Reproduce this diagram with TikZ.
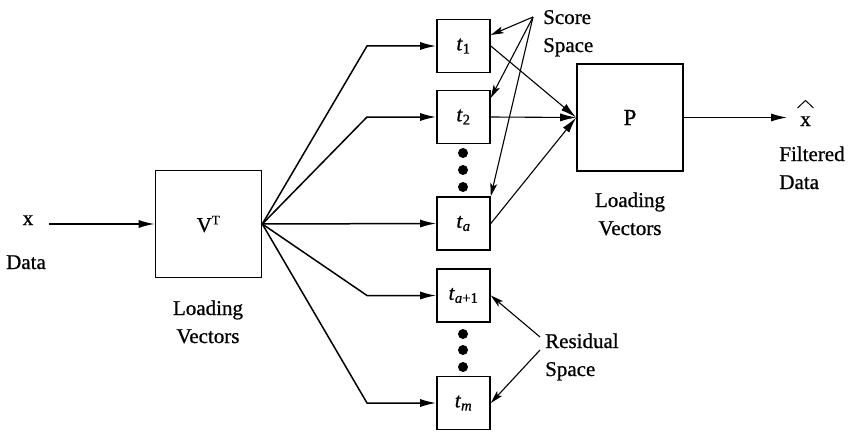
\documentclass[tikz,border=0pt]{standalone}
\usepackage{fontspec}
\setmainfont{Liberation Serif}[FakeBold=0.8]
\usetikzlibrary{arrows.meta}
\begin{document}
\begin{tikzpicture}[x=1pt,y=-1pt,
  bigbox/.style={draw,line width=1.6pt,minimum width=106pt,minimum height=107pt,inner sep=0pt},
  smallbox/.style={draw,line width=1.6pt,minimum width=53pt,minimum height=53pt,inner sep=0pt},
  flow/.style={line width=1.5pt,-{Latex[length=16pt,width=8pt]}},
  thinflow/.style={line width=1.1pt,-{Latex[length=16pt,width=8pt]}},
  note/.style={line width=1.1pt,-{Stealth[length=13pt,width=7pt,inset=3pt]}},
  lbl/.style={font=\fontsize{21}{28}\selectfont,inner sep=0pt},
  dot/.style={fill=black}]
\useasboundingbox (0,0) rectangle (850,433);

% main blocks
\node[bigbox,lbl] (VT) at (208.5,224) {V\textsuperscript{\fontsize{13}{13}\selectfont T}};
\node[bigbox,lbl,font=\fontsize{23}{28}\selectfont] (P) at (630,117.5) {P};

% score / residual components
\node[smallbox,lbl] (t1) at (463.5,46) {\textit{t}\textsubscript{1}};
\node[smallbox,lbl] (t2) at (463.5,117) {\textit{t}\textsubscript{2}};
\node[smallbox,lbl] (ta) at (463.5,223.5) {\textit{t}\textsubscript{\textit{a}}};
\node[smallbox,lbl] (ta1) at (463.5,295.5) {\textit{t}\textsubscript{\textit{a}+1}};
\node[smallbox,lbl] (tm) at (463.5,403) {\textit{t}\textsubscript{\textit{m}}};

% ellipsis dots
\fill[dot] (463,153) circle (5pt);
\fill[dot] (463,170) circle (5pt);
\fill[dot] (463,187) circle (5pt);
\fill[dot] (463,334) circle (5pt);
\fill[dot] (463,350) circle (5pt);
\fill[dot] (463,367) circle (5pt);

% labels (two-line labels are placed by the baseline of their last line)
\node[lbl,anchor=base] (xin) at (28,225) {x};
\node[lbl,anchor=base] (datalbl) at (26,269) {Data};
\node[lbl,anchor=base,align=center] (loadV) at (208,343) {Loading\\Vectors};
\node[lbl,anchor=base,align=center] (loadP) at (630,235) {Loading\\Vectors};
\node[lbl,anchor=base west,align=left] (score) at (543,52) {Score\\Space};
\node[lbl,anchor=base west,align=left] (resid) at (545,376) {Residual\\Space};
\node[lbl,anchor=base] (xhat) at (805.5,126) {x};
\node[lbl,anchor=base,align=left] (filt) at (812,189) {Filtered\\Data};
\draw[line width=1pt] (797.5,108) -- (805.5,100.5) -- (813.5,108);

% connectors
\coordinate (xstart) at (49,224);
\coordinate (bend) at (367,0);
\coordinate (xend) at (787,117.5);
\coordinate (sc) at (533,17);
\coordinate (rs1) at (540,337);
\coordinate (rs2) at (540,350);

\draw[flow] (xstart) -- (VT.west);
\draw[flow] (VT.east) -- (bend |- t1) -- (t1.west);
\draw[flow] (VT.east) -- (bend |- t2) -- (t2.west);
\draw[flow] (VT.east) -- (ta.west);
\draw[flow] (VT.east) -- (bend |- ta1) -- (ta1.west);
\draw[flow] (VT.east) -- (bend |- tm) -- (tm.west);

\draw[thinflow] (t1.east) -- (P.west);
\draw[thinflow] (t2.east) -- (P.west);
\draw[thinflow] (ta.east) -- (P.west);
\draw[thinflow] (P.east) -- (xend);

\draw[note] (sc) -- (t1.22);
\draw[note] (sc) -- (t2.35);
\draw[note] (sc) -- (ta.north east);
\draw[note] (rs1) -- (ta1.east);
\draw[note] (rs2) -- (tm.east);
\end{tikzpicture}
\end{document}
